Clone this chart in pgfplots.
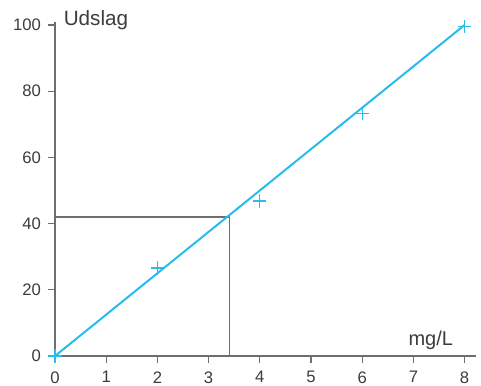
\documentclass[border=0pt]{standalone}
\usepackage{fontspec}
\setmainfont{Liberation Sans}
\usepackage{pgfplots}
\pgfplotsset{compat=1.18}
\definecolor{cyanline}{RGB}{40,188,236}
\definecolor{axgray}{RGB}{110,110,110}
\definecolor{txtgray}{RGB}{60,60,60}
\begin{document}
\begin{tikzpicture}
\begin{axis}[
  at={(0,0)}, anchor=origin,
  scale only axis,
  x=38.4pt, y=2.4825pt,
  xmin=0, xmax=8.215, ymin=0, ymax=101,
  axis lines=left,
  axis line style={axgray, line width=0.9pt, -},
  xtick={0,1,...,8}, ytick={0,20,...,100},
  tick style={axgray, line width=0.8pt},
  tick align=outside,
  major tick length=5pt,
  tick label style={font=\fontsize{12.5}{14}\selectfont, text=txtgray},
  /pgf/number format/assume math mode=true,
  xticklabel style={yshift=-3pt},
  yticklabel style={xshift=-2pt},
  clip=false,
]
\addplot[axgray, line width=0.8pt] coordinates {(0,42) (3.4,42) (3.4,0)};
\addplot[cyanline, line width=1.5pt] coordinates {(0,0) (8,100)};
\addplot[only marks, mark=+, mark size=5pt, cyanline, mark options={line width=0.9pt}] coordinates {(0,0) (2,26.6) (4,46.8) (6,73.2) (8,99.6)};
\node[anchor=west, font=\fontsize{15.5}{17}\selectfont, text=txtgray] at (axis cs:0.08,101.5) {Udslag};
\node[font=\fontsize{15}{17}\selectfont, text=txtgray] at (axis cs:7.34,4.8) {mg/L};
\end{axis}
\pgfresetboundingbox
\path (-41.25pt,-21.75pt) rectangle (319.5pt,267pt);
\end{tikzpicture}
\end{document}
